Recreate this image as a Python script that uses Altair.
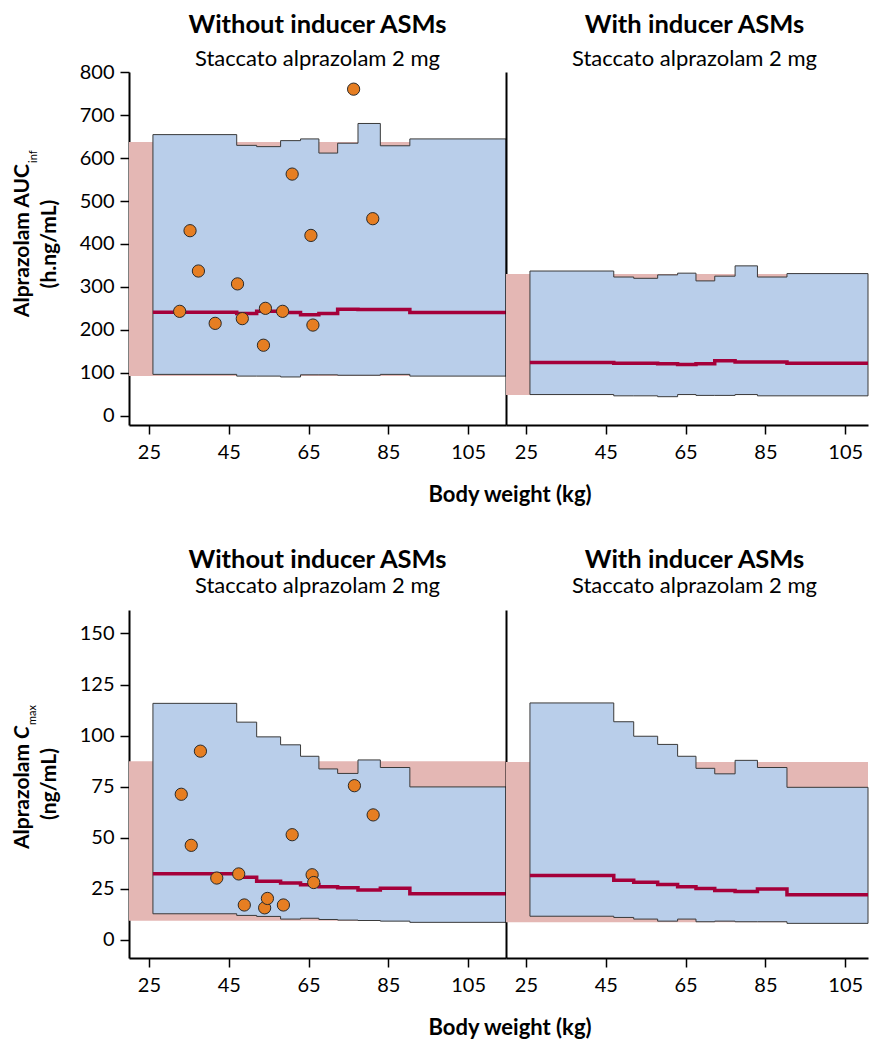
import altair as alt
import pandas as pd

# ---------------- data ----------------
X_MIN, X_MAX, X_MAX_R = 20, 114.5, 110.7
X_TICKS = [25, 45, 65, 85, 105]
AUC_DOMAIN = [-22, 801]
AUC_TICKS = [0, 100, 200, 300, 400, 500, 600, 700, 800]
CMAX_DOMAIN = [-8.85, 161.5]
CMAX_TICKS = [0, 25, 50, 75, 100, 125, 150]

# start of each body-weight bin (kg)
BIN_START = [26, 47, 52, 58, 63, 67.6, 72.3, 77.4, 83, 90.4]

# AUCinf, without inducer ASMs
AUC_WO_HI = [655, 630, 627, 641, 645, 612, 635, 681, 629, 645]
AUC_WO_LO = [96, 92, 92, 90, 95, 95, 94, 94, 96, 92]
AUC_WO_MED = [241, 238, 243, 240, 235, 238, 248, 247, 247, 240]
AUC_WO_REF = [92, 638]
# AUCinf, with inducer ASMs
AUC_W_HI = [337, 323, 320, 328, 332, 314, 325, 349, 323, 331]
AUC_W_LO = [49, 46, 46, 44, 49, 47, 47, 49, 46, 46]
AUC_W_MED = [124, 122, 122, 121, 119, 121, 128, 125, 125, 122]
AUC_W_REF = [48, 330]
# Cmax, without inducer ASMs
CMAX_WO_HI = [115.8, 106.6, 99.4, 95.5, 89.9, 83.7, 81.5, 88.1, 84.4, 74.9]
CMAX_WO_LO = [12.8, 12.0, 11.5, 10.2, 10.6, 10.0, 9.7, 9.5, 9.2, 8.6]
CMAX_WO_MED = [32.4, 30.7, 28.7, 27.9, 27.0, 26.0, 25.5, 24.4, 25.3, 22.6]
CMAX_WO_REF = [9.4, 87.5]
# Cmax, with inducer ASMs
CMAX_W_HI = [116.0, 106.8, 99.7, 95.7, 89.9, 84.0, 81.3, 87.9, 84.4, 74.7]
CMAX_W_LO = [11.6, 11.0, 10.2, 9.2, 10.2, 8.9, 9.2, 8.9, 8.9, 8.1]
CMAX_W_MED = [31.5, 29.2, 28.2, 27.1, 26.0, 25.2, 24.2, 23.7, 24.9, 22.1]
CMAX_W_REF = [8.6, 87.1]

# observed data (without inducer ASMs)
WT_AUC = [76.3, 60.9, 81.1, 35.3, 65.6, 37.4, 47.2, 54.2, 32.7, 58.5, 48.4, 41.6, 66.1, 53.7]
AUC_OBS = [761, 563, 459, 431, 420, 337, 307, 250, 243, 243, 226, 215, 211, 164]
WT_CMAX = [37.9, 33.1, 76.5, 81.2, 60.9, 35.6, 42.0, 47.5, 48.9, 54.0, 54.7, 58.7, 65.9, 66.3]
CMAX_OBS = [92.4, 71.3, 75.5, 61.2, 51.5, 46.3, 30.3, 32.3, 17.1, 15.7, 20.3, 17.1, 31.9, 28.1]

TITLE_WO = "Without inducer ASMs"
TITLE_W = "With inducer ASMs"
SUBTITLE = "Staccato alprazolam 2 mg"
XTITLE = "Body weight (kg)"

# ---------------- style ----------------
FONT = "Lato"
BLUE = "#B9CEEA"
PINK = "#E4B7B4"
MEDC = "#A5003A"
ORANGE = "#E67E22"
W_L, W_R, H_TOP, H_BOT = 377, 362, 353, 348


def txt(text, x, y, size, weight="normal", style="normal", align="center",
        angle=0, dx=0, dy=0):
    one = pd.DataFrame({"a": [0]})
    return alt.Chart(one).mark_text(
        text=text, font=FONT, fontSize=size, fontWeight=weight, fontStyle=style,
        color="black", align=align, baseline="alphabetic", angle=angle,
        dx=dx, dy=dy).encode(x=alt.value(x), y=alt.value(y))


def panel(hi, lo, med, ref, ydom, yticks, height, title, left, ty, sy,
          obs=None, ytitle=None):
    xmax = X_MAX if left else X_MAX_R
    width = W_L if left else W_R
    xscale = alt.Scale(domain=[X_MIN, xmax], nice=False, zero=False)
    yscale = alt.Scale(domain=ydom, nice=False, zero=False)
    xaxis = alt.Axis(values=X_TICKS, title=None, grid=False)
    if left:
        yaxis = alt.Axis(values=yticks, title=None, grid=False)
    else:
        yaxis = alt.Axis(values=yticks, title=None, grid=False, labels=False, ticks=False)

    band = pd.DataFrame({
        "wt": BIN_START + [xmax],
        "hi": hi + [hi[-1]],
        "lo": lo + [lo[-1]],
        "med": med + [med[-1]],
    })
    refdf = pd.DataFrame({"x0": [X_MIN], "x1": [xmax], "lo": [ref[0]], "hi": [ref[1]]})

    rect = alt.Chart(refdf).mark_rect(color=PINK).encode(
        x=alt.X("x0:Q", scale=xscale, axis=xaxis), x2="x1:Q",
        y=alt.Y("lo:Q", scale=yscale, axis=yaxis), y2="hi:Q")
    area = alt.Chart(band).mark_area(
        interpolate="step-after", fill=BLUE, fillOpacity=1,
        stroke="#3a3a3a", strokeWidth=1).encode(
        x=alt.X("wt:Q", scale=xscale), y=alt.Y("lo:Q", scale=yscale), y2="hi:Q")
    line = alt.Chart(band).mark_line(
        interpolate="step-after", color=MEDC, strokeWidth=3.5).encode(
        x=alt.X("wt:Q", scale=xscale), y=alt.Y("med:Q", scale=yscale))
    layers = [rect, area, line]
    if obs is not None:
        odf = pd.DataFrame({"wt": obs[0], "v": obs[1]})
        pts = alt.Chart(odf).mark_circle(
            size=150, fill=ORANGE, stroke="#2a2a2a", strokeWidth=1, opacity=1).encode(
            x=alt.X("wt:Q", scale=xscale), y=alt.Y("v:Q", scale=yscale))
        layers.append(pts)
    # panel title + subtitle
    layers.append(txt(title, W_L / 2, ty, 25.5, weight="bold"))
    layers.append(txt(SUBTITLE, W_L / 2, sy, 22))
    if left:
        # x-axis title, centred across both panels
        layers.append(txt(XTITLE, W_L + 4, height + 77, 22, weight="bold"))
        layers.extend(ytitle)
    return alt.layer(*layers).properties(width=width, height=height)


# y titles: positions relative to the plot area of the left panel
auc_ytitle = [
    txt("Alprazolam AUC", -100, 92, 21, weight="bold", align="right", angle=270),
    txt("inf", -100, 92, 11, align="left", angle=270, dx=1, dy=8),
    txt("(h.ng/mL)", -73, 172, 21, weight="bold", angle=270),
]
cmax_ytitle = [
    txt("Alprazolam", -100, 134, 21, weight="bold", align="right", angle=270),
    txt("C", -100, 134, 21, weight="bold", style="italic", align="left", angle=270, dx=5),
    txt("max", -100, 134, 11, align="left", angle=270, dx=19, dy=7),
    txt("(ng/mL)", -73, 174, 21, weight="bold", angle=270),
]

p1 = panel(AUC_WO_HI, AUC_WO_LO, AUC_WO_MED, AUC_WO_REF, AUC_DOMAIN, AUC_TICKS, H_TOP,
           TITLE_WO, True, -39, -6, obs=(WT_AUC, AUC_OBS), ytitle=auc_ytitle)
p2 = panel(AUC_W_HI, AUC_W_LO, AUC_W_MED, AUC_W_REF, AUC_DOMAIN, AUC_TICKS, H_TOP,
           TITLE_W, False, -39, -6)
p3 = panel(CMAX_WO_HI, CMAX_WO_LO, CMAX_WO_MED, CMAX_WO_REF, CMAX_DOMAIN, CMAX_TICKS, H_BOT,
           TITLE_WO, True, -42, -17, obs=(WT_CMAX, CMAX_OBS), ytitle=cmax_ytitle)
p4 = panel(CMAX_W_HI, CMAX_W_LO, CMAX_W_MED, CMAX_W_REF, CMAX_DOMAIN, CMAX_TICKS, H_BOT,
           TITLE_W, False, -42, -17)

chart = alt.concat(
    p1, p2, p3, p4, columns=2,
    spacing=alt.RowColnumber(row=185, column=0), bounds="flush"
).properties(
    padding={"left": 4, "top": 5, "right": 0, "bottom": 0}
).configure_view(stroke=None).configure_axis(
    domainColor="black", domainWidth=2, tickColor="black", tickWidth=1.5, tickSize=9,
    labelFont=FONT, labelFontSize=20, labelColor="black", grid=False
).configure_axisX(labelPadding=8).configure_axisY(labelPadding=6)

chart.save("out.html", embed_options={"renderer": "svg", "actions": False})
